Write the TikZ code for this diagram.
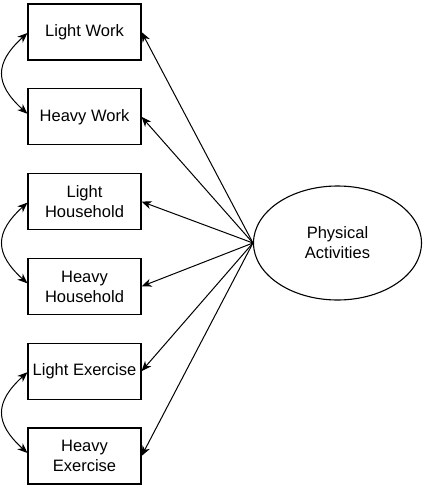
\documentclass[tikz,border=0pt]{standalone}
\usepackage{fontspec}
\setmainfont{Liberation Sans}
\usetikzlibrary{arrows.meta,shapes.geometric,calc}
\begin{document}
\begin{tikzpicture}[x=1pt,y=-1pt,
  box/.style={draw,line width=1.1pt,minimum width=113pt,minimum height=56pt,inner sep=0pt,align=center,font=\fontsize{16.5}{20}\selectfont},
  latent/.style={draw,line width=1.1pt,ellipse,minimum width=168pt,minimum height=114pt,inner sep=0pt,align=center,font=\fontsize{16.5}{20}\selectfont},
  arr/.style={line width=1pt,-{Stealth[length=10pt,width=8pt,inset=3pt]}},
  darr/.style={line width=1pt,{Stealth[length=10pt,width=8pt,inset=3pt]}-{Stealth[length=10pt,width=8pt,inset=3pt]}}]
\useasboundingbox (0,0) rectangle (423,485);
\node[box] (b1) at (84.5,32) {Light Work};
\node[box] (b2) at (84.5,116.8) {Heavy Work};
\node[box] (b3) at (84.5,201.6) {Light\\Household};
\node[box] (b4) at (84.5,286.4) {Heavy\\Household};
\node[box] (b5) at (84.5,371.2) {Light Exercise};
\node[box] (b6) at (84.5,456) {Heavy\\Exercise};
\node[latent] (pa) at (337.5,243) {Physical\\Activities};
\foreach \b in {b1,b2,b3,b4,b5,b6}
  \draw[arr] (pa.west) -- (\b.east);
\coordinate (c1a) at ($(b1.west)+(0,1)$);
\coordinate (c2a) at ($(b2.west)+(0,-3)$);
\coordinate (c3a) at ($(b3.west)+(0,1)$);
\coordinate (c4a) at ($(b4.west)+(0,-3)$);
\coordinate (c5a) at ($(b5.west)+(0,1)$);
\coordinate (c6a) at ($(b6.west)+(0,-3)$);
\draw[darr] (c1a) .. controls +(-33,30) and +(-33,-30) .. (c2a);
\draw[darr] (c3a) .. controls +(-33,30) and +(-33,-30) .. (c4a);
\draw[darr] (c5a) .. controls +(-33,30) and +(-33,-30) .. (c6a);
\end{tikzpicture}
\end{document}
